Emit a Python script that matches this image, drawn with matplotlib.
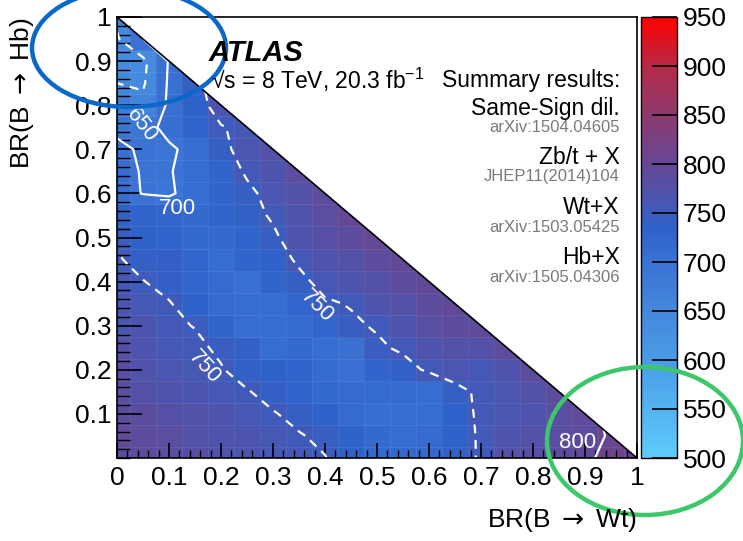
import numpy as np
import matplotlib
matplotlib.use("Agg")
import matplotlib.pyplot as plt
from matplotlib.colors import LinearSegmentedColormap, Normalize
from matplotlib.patches import Polygon, Ellipse

plt.rcParams['font.family'] = ['Liberation Sans', 'DejaVu Sans']
plt.rcParams['mathtext.fontset'] = 'custom'
plt.rcParams['mathtext.rm'] = 'Liberation Sans'
plt.rcParams['mathtext.it'] = 'Liberation Sans:italic'
plt.rcParams['mathtext.sf'] = 'DejaVu Sans'

# bin centres for both branching ratios
br_wt = np.round(np.arange(21) * 0.05, 2)
br_hb = np.round(np.arange(21) * 0.05, 2)

# lower mass limit [GeV], one row per BR(B->Hb) bin (from 0 upwards),
# each row runs in BR(B->Wt) up to the edge of the physical triangle
mass_rows = [
    [790, 790, 785, 778, 772, 765, 760, 755, 751, 735, 722, 718, 720, 738, 753, 775, 782, 790, 795, 808, 806],
    [792, 790, 786, 775, 770, 764, 760, 752, 744, 733, 718, 712, 715, 735, 754, 768, 775, 782, 790, 803],
    [790, 788, 776, 775, 768, 760, 752, 742, 735, 715, 708, 708, 712, 735, 756, 762, 768, 782, 792],
    [788, 776, 770, 765, 758, 752, 740, 730, 720, 715, 715, 715, 712, 742, 755, 762, 775, 790],
    [782, 772, 762, 760, 752, 738, 735, 730, 715, 705, 728, 738, 755, 762, 758, 768, 790],
    [780, 768, 758, 756, 745, 738, 712, 720, 708, 705, 745, 755, 768, 775, 775, 790],
    [765, 766, 755, 749, 730, 710, 712, 715, 725, 745, 753, 768, 782, 790, 792],
    [765, 757, 752, 735, 715, 710, 712, 725, 746, 752, 768, 775, 790, 795],
    [758, 751, 740, 725, 715, 705, 730, 742, 760, 768, 775, 790, 797],
    [753, 740, 740, 725, 712, 728, 735, 755, 768, 775, 790, 797],
    [745, 735, 728, 718, 718, 730, 744, 768, 778, 790, 798],
    [738, 728, 725, 718, 728, 738, 754, 770, 785, 798],
    [710, 699, 696, 712, 728, 742, 762, 775, 790],
    [710, 698, 698, 712, 728, 755, 768, 790],
    [705, 697, 696, 708, 742, 762, 775],
    [695, 690, 708, 730, 748, 758],
    [675, 660, 706, 735, 765],
    [650, 645, 705, 740],
    [645, 640, 703],
    [645, 700],
    [660],
]

contour_levels = [650, 700, 750, 800]
contour_styles = [(0, (4, 3)), 'solid', (0, (4, 3)), 'solid']
# (text, BR(B->Wt), BR(B->Hb), rotation)
contour_labels = [
    ('650', 0.048, 0.755, -52),
    ('700', 0.117, 0.565, 0),
    ('750', 0.168, 0.205, -48),
    ('750', 0.385, 0.345, -45),
    ('800', 0.885, 0.036, 0),
]

cbar_ticks = list(range(500, 1000, 50))

refs = [
    ('Same-Sign dil.', 'arXiv:1504.04605'),
    ('Zb/t + X', 'JHEP11(2014)104'),
    ('Wt+X', 'arXiv:1503.05425'),
    ('Hb+X', 'arXiv:1505.04306'),
]

grid = np.full((21, 21), np.nan)
for j, row in enumerate(mass_rows):
    grid[j, :len(row)] = row

palette = LinearSegmentedColormap.from_list('blue_red', [
    (0.0, '#5ECBFA'),
    (50 / 450, '#53B3F0'),
    (100 / 450, '#4A9BE5'),
    (150 / 450, '#4488DC'),
    (200 / 450, '#3A72D3'),
    (235 / 450, '#2F62C9'),
    (260 / 450, '#4857B3'),
    (300 / 450, '#654795'),
    (350 / 450, '#8C3A6E'),
    (400 / 450, '#B52A48'),
    (1.0, '#FF0000'),
])
norm = Normalize(500, 950)

W, H = 743, 541
fig = plt.figure(figsize=(W / 100, H / 100), dpi=100)
ax = fig.add_axes([117 / W, 1 - 458 / H, 520 / W, 441 / H])

edges = np.concatenate([br_wt - 0.025, [br_wt[-1] + 0.025]])
mesh = ax.pcolormesh(edges, edges, np.ma.masked_invalid(grid), cmap=palette, norm=norm,
                     edgecolors=(1, 1, 1, 0.07), linewidth=0.5)
tri = Polygon([(0, 0), (1, 0), (0, 1)], closed=True, transform=ax.transData)
mesh.set_clip_path(tri)

cs = ax.contour(br_wt, br_hb, np.ma.masked_invalid(grid), levels=contour_levels,
                colors='white', linewidths=1.6, linestyles=contour_styles)
cs.set_clip_path(tri)

for txt, x, y, rot in contour_labels:
    ax.text(x, y, txt, color='white', fontsize=16, rotation=rot,
            ha='center', va='center')

ax.plot([0, 1], [1, 0], color='black', lw=1.2)
ax.set_xlim(0, 1)
ax.set_ylim(0, 1)
ax.set_xticks(np.arange(0, 1.01, 0.1))
ax.set_yticks(np.arange(0.1, 1.01, 0.1))
ax.set_xticks(np.arange(0, 1.001, 0.02), minor=True)
ax.set_yticks(np.arange(0, 1.001, 0.02), minor=True)
ax.set_xticklabels(['0'] + ['%.1f' % v for v in np.arange(0.1, 0.95, 0.1)] + ['1'])
ax.set_yticklabels(['%.1f' % v for v in np.arange(0.1, 0.95, 0.1)] + ['1'])
ax.tick_params(axis='both', which='both', direction='in', top=False, right=False,
               labelsize=19, color='black')
ax.tick_params(axis='y', which='major', length=18, width=1.2, pad=4)
ax.tick_params(axis='y', which='minor', length=9, width=1)
ax.tick_params(axis='x', which='major', length=11, width=1.2, pad=6)
ax.tick_params(axis='x', which='minor', length=5.5, width=1)
for s in ax.spines.values():
    s.set_linewidth(1.2)

cax = fig.add_axes([641 / W, 1 - 458 / H, 36 / W, 441 / H])
cb = fig.colorbar(mesh, cax=cax, ticks=cbar_ticks)
cb.outline.set_linewidth(1)
cax.tick_params(direction='in', length=18, width=1.2, labelsize=19, pad=4)

fig.text(22 / W, 1 - 17 / H, r'BR(B $\mathsf{\rightarrow}$ Hb)', rotation=90,
         ha='center', va='top', fontsize=19)
fig.text(637 / W, 1 - 520 / H, r'BR(B $\mathsf{\rightarrow}$ Wt)', ha='right',
         va='center', fontsize=19)

fig.text(209 / W, 1 - 53 / H, 'ATLAS', fontsize=21, fontweight='bold', fontstyle='italic',
         va='center')
fig.text(211 / W, 1 - 80 / H, '√s = 8 TeV, 20.3 fb$^{-1}$', fontsize=16.5, va='center')
fig.text(620 / W, 1 - 80 / H, 'Summary results:', fontsize=16.5, ha='right', va='center')
y = 108
for name, ref in refs:
    fig.text(620 / W, 1 - y / H, name, fontsize=16.5, ha='right', va='center')
    fig.text(620 / W, 1 - (y + 19) / H, ref, fontsize=12, ha='right', va='center',
             color='#7a7a7a')
    y += 50

# hand-drawn highlight rings
fig.add_artist(Ellipse((129 / W, 1 - 48 / H), 194 / W, 118 / H, transform=fig.transFigure,
                       fill=False, edgecolor='#0A68C8', lw=3.2))
fig.add_artist(Ellipse((645 / W, 1 - 441 / H), 196 / W, 148 / H, transform=fig.transFigure,
                       fill=False, edgecolor='#3CC86A', lw=3.2))

fig.savefig('out.png', dpi=100)
